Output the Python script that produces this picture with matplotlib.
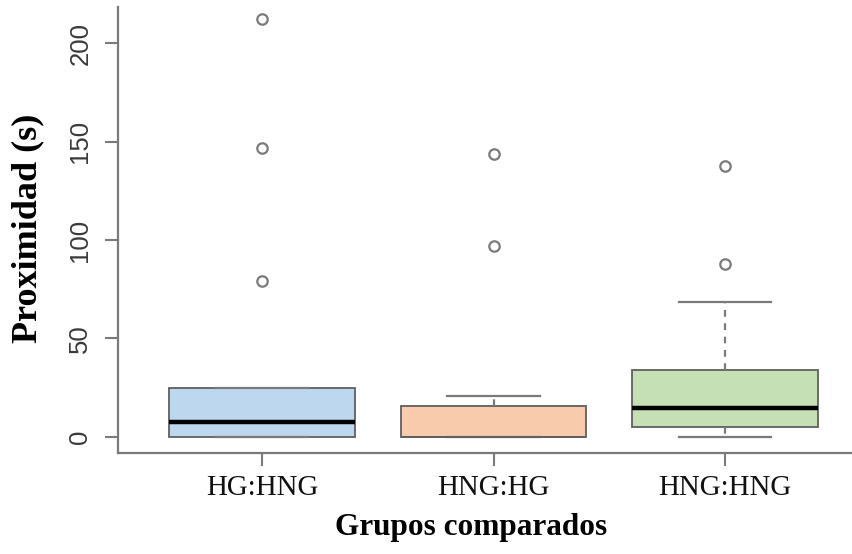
import matplotlib
matplotlib.use("Agg")
import matplotlib.pyplot as plt

# Group labels and five-number summaries (seconds)
groups = ["HG:HNG", "HNG:HG", "HNG:HNG"]
q1 = [0.0, 0.0, 4.8]
medians = [7.5, 0.0, 14.8]
q3 = [25.0, 15.5, 33.8]
whis_low = [0.0, 0.0, 0.0]
whis_high = [25.0, 20.5, 68.5]
outliers = [[212.5, 147.0, 79.0], [143.5, 97.0], [137.5, 88.0]]

box_colors = ["#bdd7ee", "#f8cbad", "#c5e0b4"]
yticks = [0, 50, 100, 150, 200]

W, H, DPI = 852, 554, 100
fig = plt.figure(figsize=(W / DPI, H / DPI), dpi=DPI)
ax = fig.add_axes([118 / W, (H - 452.7) / H, (W - 118) / W, (452.7 - 6.7) / H])

stats = []
for i, g in enumerate(groups):
    stats.append(dict(label=g, q1=q1[i], med=medians[i], q3=q3[i],
                      whislo=whis_low[i], whishi=whis_high[i], fliers=outliers[i]))

positions = [1, 2, 3]
edge = "#5f5f5f"
line_gray = "#7a7a7a"
res = ax.bxp(stats, positions=positions, widths=0.8, patch_artist=True,
             showfliers=True,
             boxprops=dict(edgecolor=edge, linewidth=1.3),
             medianprops=dict(color="black", linewidth=3.2, solid_capstyle="butt"),
             whiskerprops=dict(color=line_gray, linewidth=1.6, linestyle=(0, (3, 3))),
             capprops=dict(color=line_gray, linewidth=1.6),
             flierprops=dict(marker="o", markersize=7.5, markerfacecolor="none",
                             markeredgecolor=line_gray, markeredgewidth=1.6),
             capwidths=0.4)
for patch, c in zip(res["boxes"], box_colors):
    patch.set_facecolor(c)
    patch.set_zorder(2)
# the middle group's median sits on the box floor and is not emphasised
res["medians"][1].set_color(edge)
res["medians"][1].set_linewidth(1.3)

x0 = 1 - (262 - 118) / 231.5
x1 = 3 + (852 - 725) / 231.5
ax.set_xlim(x0, x1)
y_per_px = 200 / (436.7 - 43.3)
ax.set_ylim(-(452.7 - 436.7) * y_per_px, (436.7 - 6.7) * y_per_px)

for s in ["top", "right"]:
    ax.spines[s].set_visible(False)
for s in ["left", "bottom"]:
    ax.spines[s].set_color("#7a7a7a")
    ax.spines[s].set_linewidth(1.6)

ax.set_yticks(yticks)
ax.set_yticklabels([str(v) for v in yticks], rotation=90, va="center",
                   fontfamily="Liberation Sans", fontsize=18.5, color="#3a3a3a")
ax.tick_params(axis="y", length=9.5, width=1.5, color="#7a7a7a", pad=9)
ax.set_xticks(positions)
ax.set_xticklabels(groups, fontfamily="Liberation Serif", fontsize=20.8, color="#111111")
ax.tick_params(axis="x", length=9, width=1.5, color="#7a7a7a", pad=7)

fig.text(28 / W, 1 - 228 / H, "Proximidad (s)", rotation=90, ha="center", va="center",
         fontfamily="Liberation Serif", fontweight="bold", fontsize=26)
fig.text(471 / W, 1 - 527 / H, "Grupos comparados", ha="center", va="center",
         fontfamily="Liberation Serif", fontweight="bold", fontsize=22.5)

fig.savefig("out.png", dpi=DPI)
